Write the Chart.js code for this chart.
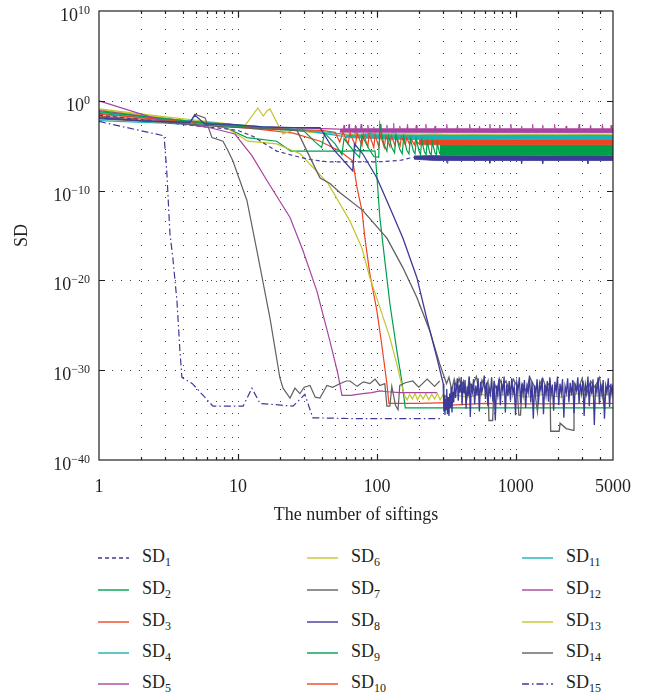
<!DOCTYPE html>
<html>
<head>
<meta charset="utf-8">
<script src="https://cdn.jsdelivr.net/npm/chart.js@4.4.1/dist/chart.umd.min.js"></script>
<style>
  body { margin: 0; background: #fff; }
  #wrap { position: relative; width: 656px; height: 699px; }
  #chart { position: absolute; left: 0; top: 0; }
  .item { position: absolute; font: 18px "Liberation Serif", serif; color: #231f20; white-space: nowrap; }
  .item svg { position: absolute; left: 0; top: -3px; }
  .item span { position: absolute; left: 44px; top: -12px; line-height: 20px; }
  .item sub { font-size: 12px; vertical-align: -4px; line-height: 0; }
</style>
</head>
<body>
<div id="wrap">
  <canvas id="chart" width="656" height="535"></canvas>
  <div id="legend"></div>
</div>
<script>
// axis ticks
const X_GRID = [1, 2, 3, 4, 5, 6, 7, 8, 9, 10, 20, 30, 40, 50, 60, 70, 80, 90,
  100, 200, 300, 400, 500, 600, 700, 800, 900, 1000, 2000, 3000, 4000, 5000];
const X_LABELS = [1, 10, 100, 1000, 5000];
const Y_EXPONENTS = [-40, -30, -20, -10, 0, 10];

// series values as [number of siftings, log10(SD)]
const SD1 = [[1,-1.6],[2,-2.1],[3,-2.4],[5,-2.8],[8,-3.1],[10,-3.3],[13,-4.0],[16,-4.9],[19,-5.6],[25,-6.1],
  [32,-6.5],[44,-6.8],[60,-6.8],[80,-6.8],[100,-6.8],[130,-6.7],[150,-6.6],[170,-6.4],[185,-6.3]];
const SD1_BAND_TOP = [[185,-6.15],[250,-6.1],[400,-6.15],[800,-6.1],[1600,-6.15],[3000,-6.1],[5000,-6.15]];
const SD1_BAND_BOTTOM = [[185,-6.5],[260,-6.65],[316,-6.65],[320,-6.95],[324,-6.65],[643,-6.65],[650,-6.95],[657,-6.65],
  [1090,-6.65],[1100,-7.0],[1110,-6.65],[1545,-6.65],[1560,-7.0],[1575,-6.65],[3270,-6.65],[3300,-7.0],[3330,-6.65],[5000,-6.65]];

const SD2 = [[1,-1.2],[3,-2.0],[8,-2.7],[15,-3.1],[25,-3.3],[30,-3.4],[36,-4.6],[40,-5.2],[42,-3.6],[50,-4.8],
  [56,-6.0],[58,-4.2],[68,-5.6],[75,-6.3],[78,-3.9],[88,-5.4],[95,-6.2],[103,-6.3],[105,-2.6],[112,-4.8],
  [118,-5.6],[121,-3.9],[128,-5.2],[134,-5.8],[137,-3.8],[146,-5.4],[152,-5.9],[156,-4.0],[164,-5.5],[170,-5.9],
  [174,-4.2],[183,-5.6],[188,-5.9],[192,-4.3],[201,-5.6],[206,-6.0],[210,-4.4],[220,-5.7],[226,-6.0],[230,-4.5],
  [240,-5.8],[246,-6.0],[250,-4.6],[262,-5.8],[268,-6.0],[272,-4.7],[283,-5.9]];
const SD2_BAND_TOP = [[283,-4.9],[290,-4.9],[292,-3.9],[294,-4.9],[316,-4.9],[318,-3.8],[320,-4.9],[344,-4.9],[346,-3.9],
  [348,-4.9],[374,-4.9],[376,-4.0],[378,-4.9],[408,-4.9],[410,-4.0],[412,-4.9],[450,-4.9],[452,-4.1],[454,-4.9],[5000,-4.9]];
const SD2_BAND_BOTTOM = [[283,-6.1],[5000,-6.1]];

const SD3 = [[1,-1.5],[3,-2.1],[8,-2.7],[15,-3.0],[25,-3.2],[40,-3.3],[50,-3.5],[54,-4.6],[57,-3.5],[62,-4.8],
  [64,-3.6],[70,-5.0],[72,-3.6],[78,-5.0],[80,-3.7],[86,-5.1],[88,-3.7],[95,-5.2],[97,-3.8],[103,-5.1],[106,-3.8],
  [113,-5.2],[116,-3.9],[124,-5.1],[127,-3.9],[135,-5.0],[138,-4.0],[147,-5.0],[150,-4.0],[160,-4.9],[164,-4.1],
  [172,-4.9],[176,-4.2],[186,-4.9],[190,-4.3],[200,-4.8]];
const SD3_BAND_TOP = [[200,-4.3],[400,-4.3],[1000,-4.35],[5000,-4.3]];
const SD3_BAND_BOTTOM = [[200,-4.9],[5000,-4.9]];

const SD4 = [[1,-2.2],[3,-2.5],[10,-2.9],[20,-3.1],[30,-3.3],[45,-3.5],[60,-3.75]];
const SD4_BAND_TOP = [[60,-3.75],[69,-3.75],[70,-3.3],[71,-3.75],[97,-3.75],[98,-3.3],[99,-3.75],[129,-3.75],[130,-3.4],
  [131,-3.75],[200,-3.8],[260,-3.7],[350,-3.8],[500,-3.75],[800,-3.8],[1300,-3.75],[2000,-3.8],[3200,-3.75],[5000,-3.8]];
const SD4_BAND_BOTTOM = [[60,-4.1],[150,-4.3],[5000,-4.3]];

const SD5 = [[1,0.0],[2.84,-2.2],[6.3,-3.0],[9.5,-3.7],[12.6,-6.1],[16.2,-8.9],[23.7,-13.0],[29.4,-16.7],[37,-21.2],
  [45.8,-26.7],[52.4,-30.4],[56,-32.8],[65,-32.8],[79,-32.6],[92,-32.5],[105,-32.3],[120,-32.4],[146,-32.5],[200,-32.5],[271,-32.5]];

const SD6 = [[1,-1.0],[3,-1.9],[8,-2.9],[11.8,-4.5],[19,-4.8],[28,-5.9],[44.5,-9.2],[64,-13.4],[78,-16.4],[89,-19.7],
  [105,-23.0],[124,-26.4],[139,-29.3],[150,-31.5],[158,-32.8],[165,-33.3],[172,-32.7],[180,-33.2],[188,-32.6],
  [196,-33.3],[205,-32.7],[215,-33.2],[225,-32.6],[236,-33.3],[248,-32.7],[260,-33.2],[272,-32.6],[285,-33.3],
  [300,-32.7],[330,-33.1],[380,-32.8],[450,-33.0],[560,-32.7],[700,-32.9],[900,-32.6],[1200,-33.0],[1600,-32.7],
  [2100,-33.0],[2800,-32.6],[3700,-32.9],[5000,-32.6]];

const SD7 = [[1,-1.8],[2,-2.2],[4.5,-2.5],[4.9,-1.5],[5.8,-1.9],[6.5,-4.1],[7.8,-4.5],[8.5,-5.6],[9.2,-6.7],
  [11.6,-11.1],[13.7,-16.7],[17.0,-24.2],[20.0,-30.8],[21.1,-32.0],[23.7,-33.1],[25.7,-32.0],[27.9,-32.6],
  [30,-31.9],[33,-31.7],[36,-33.0],[38.9,-33.1],[43.7,-31.7],[48,-31.9],[54,-31.5],[60,-31.2],[64,-31.2],
  [72,-31.8],[80,-31.3],[89,-31.5],[97,-31.0],[105,-31.7],[114,-31.5],[118,-34.0],[124,-34.0],[128,-31.8],
  [136,-33.9],[142,-34.4],[146,-31.7],[160,-31.4],[181,-31.2],[200,-31.9],[230,-31.0],[260,-31.8],[283,-31.2]];

const SD8 = [[1,-1.9],[2,-2.2],[4.5,-2.4],[4.9,-1.6],[5.8,-2.6],[8.5,-2.6],[15,-2.9],[25,-3.0],[39,-3.0],
  [48,-5.3],[67,-7.8],[69,-4.8],[79,-5.9],[100,-8.6],[124,-11.9],[154,-15.3],[194,-19.7],[228,-24.2],[270,-28.6],
  [300,-31.5],[303,-34.6],[306,-32.8],[309,-35.0],[312,-33.2],[315,-34.4],[318,-32.1],[322,-34.9],[326,-33.0],
  [330,-35.1],[334,-32.6],[338,-34.2],[342,-31.9],[347,-34.7],[352,-32.4],[357,-33.6],[362,-31.4],[368,-33.1],
  [373,-32.0],[379,-30.9],[385,-33.4],[391,-31.6],[397,-32.5],[404,-30.8],[410,-33.9],[417,-31.3],[424,-32.6],
  [431,-31.1],[438,-34.3],[446,-31.8],[454,-32.9],[462,-30.7],[470,-35.2],[478,-31.5],[487,-32.4],[496,-31.0],
  [505,-33.8],[515,-31.7],[525,-32.8],[535,-30.9],[546,-34.6],[557,-31.3],[568,-32.5],[580,-31.8],[592,-30.6],
  [604,-33.2],[616,-31.4],[629,-34.0],[642,-31.9],[655,-32.7],[669,-30.8],[683,-33.5],[697,-31.2],[711,-35.6],
  [726,-31.7],[741,-32.8],[757,-31.0],[773,-33.9],[789,-31.5],[806,-32.4],[823,-30.7],[840,-34.7],[858,-31.6],
  [876,-32.9],[895,-31.2],[914,-33.4],[933,-30.9],[953,-32.6],[973,-31.8],[994,-35.0],[1015,-31.4],[1037,-32.2],
  [1059,-30.8],[1081,-33.7],[1104,-31.5],[1128,-32.7],[1152,-31.1],[1176,-34.2],[1201,-31.8],[1227,-32.5],
  [1253,-30.6],[1280,-33.6],[1307,-31.3],[1335,-35.4],[1363,-31.7],[1392,-32.6],[1422,-31.0],[1452,-33.8],
  [1483,-31.5],[1515,-32.3],[1547,-30.9],[1580,-34.9],[1614,-31.6],[1648,-32.8],[1683,-31.2],[1719,-33.5],
  [1756,-30.8],[1793,-32.7],[1831,-31.6],[1870,-34.5],[1910,-31.3],[1951,-32.4],[1992,-30.7],[2035,-33.9],
  [2078,-31.5],[2122,-32.6],[2167,-31.0],[2214,-35.3],[2261,-31.8],[2309,-32.5],[2358,-30.9],[2408,-33.6],
  [2459,-31.4],[2512,-32.8],[2565,-31.1],[2620,-34.8],[2676,-31.7],[2733,-32.3],[2791,-30.8],[2850,-33.7],
  [2911,-31.5],[2973,-32.6],[3036,-31.2],[3100,-35.1],[3166,-31.6],[3234,-32.4],[3302,-30.7],[3373,-34.0],
  [3444,-31.4],[3518,-32.7],[3592,-31.0],[3669,-36.1],[3747,-31.6],[3827,-32.5],[3908,-30.8],[3991,-33.8],
  [4076,-31.5],[4163,-32.6],[4252,-31.1],[4342,-35.4],[4435,-31.7],[4529,-32.4],[4625,-30.9],[4724,-34.1],
  [4824,-31.5],[4927,-32.7],[5000,-31.6]];

const SD9 = [[1,-1.4],[3,-2.1],[6.5,-2.7],[8.2,-3.0],[11.6,-4.1],[19,-4.5],[24,-5.6],[40,-5.6],[60,-5.6],[80,-5.55],
  [97,-5.6],[105,-13.0],[114,-17.8],[124,-22.6],[139,-27.8],[151,-31.2],[160,-34.2],[300,-34.2],[1000,-34.2],[5000,-34.2]];

const SD10 = [[1,-1.7],[3,-2.2],[8,-2.8],[15,-3.2],[25,-3.6],[39,-4.5],[54,-5.6],[67,-6.7],[72,-9.7],[78,-12.2],
  [82,-15.3],[89,-19.3],[100,-23.4],[108,-27.0],[118,-31.5],[122,-33.7],[200,-33.7],[330,-33.6],[340,-33.9],
  [600,-33.7],[1200,-33.75],[5000,-33.7]];

const SD11 = [[1,-1.3],[3,-2.0],[10,-2.7],[20,-3.0],[30,-3.3],[40,-3.6],[54,-3.9],[70,-4.0],[90,-3.6],[110,-4.1],
  [150,-3.9],[250,-4.0],[500,-3.95],[1000,-4.05],[2000,-3.95],[5000,-4.0]];

const SD12 = [[1,-1.1],[3,-2.0],[8,-2.6],[15,-2.9],[25,-3.0],[40,-3.1],[54,-3.15]];
const SD12_BAND_TOP = [[54,-3.15],[57.4,-3.1],[58,-2.7],[58.6,-3.1],[62.4,-3.1],[63,-2.6],[63.6,-3.1],[69.3,-3.1],
  [70,-2.8],[70.7,-3.1],[76.2,-3.1],[77,-2.6],[77.8,-3.1],[85.1,-3.1],[86,-2.7],[86.9,-3.1],[94,-3.1],[95,-2.9],
  [96,-3.1],[105,-3.1],[106,-2.6],[107,-3.1],[117,-3.1],[118,-2.7],[119,-3.1],[131,-3.1],[132,-2.5],[133,-3.1],
  [144.5,-3.1],[146,-2.8],[147.5,-3.1],[164.3,-3.1],[166,-2.6],[167.7,-3.1],[190,-3.1],[192,-2.7],[194,-3.1],
  [222.8,-3.1],[225,-2.6],[227.2,-3.1],[259.4,-3.1],[262,-2.8],[264.6,-3.1],[314.8,-3.1],[318,-2.6],[321.2,-3.1],
  [376,-3.1],[380,-2.7],[384,-3.1],[460,-3.1],[465,-2.6],[470,-3.1],[542.5,-3.1],[548,-2.8],[553.5,-3.1],
  [643.5,-3.1],[650,-2.6],[656.5,-3.1],[757,-3.1],[765,-2.7],[773,-3.1],[911,-3.1],[920,-2.6],[929,-3.1],
  [1089,-3.1],[1100,-2.8],[1111,-3.1],[1307,-3.1],[1320,-2.6],[1333,-3.1],[1544,-3.1],[1560,-2.7],[1576,-3.1],
  [1881,-3.1],[1900,-2.6],[1919,-3.1],[2277,-3.1],[2300,-2.8],[2323,-3.1],[2821,-3.1],[2850,-2.6],[2879,-3.1],
  [3415,-3.1],[3450,-2.7],[3485,-3.1],[4158,-3.1],[4200,-2.6],[4242,-3.1],[4801,-3.1],[4850,-2.7],[4899,-3.1],[5000,-3.1]];
const SD12_BAND_BOTTOM = [[54,-3.5],[5000,-3.55]];

const SD13 = [[1,-0.9],[3,-1.8],[8,-2.5],[11.2,-2.8],[13.9,-0.8],[15.2,-1.7],[16.2,-1.1],[17,-0.9],[21,-3.7],
  [28,-3.0],[32,-3.5],[40,-3.6],[60,-3.7],[100,-3.65],[300,-3.7],[1000,-3.7],[5000,-3.7]];

const SD14 = [[1,-2.0],[3,-2.4],[8,-2.9],[15,-3.1],[22,-3.2],[26.6,-3.3],[33,-6.3],[39,-8.6],[46,-9.2],[54,-10.2],
  [79,-12.2],[118,-15.3],[154,-18.6],[194,-21.9],[240,-25.6],[283,-29.3],[317,-31.5],[330,-30.8],[345,-32.2],
  [360,-31.0],[375,-32.0],[390,-30.9],[405,-31.8],[420,-31.2],[440,-33.5],[460,-31.0],[480,-32.2],[500,-31.3],
  [520,-30.7],[545,-32.6],[570,-31.1],[600,-32.0],[630,-31.2],[640,-35.6],[680,-35.6],[700,-31.4],[730,-32.3],
  [760,-30.9],[800,-31.8],[850,-31.2],[900,-32.4],[960,-31.0],[1020,-31.8],[1050,-35.0],[1080,-35.0],[1110,-31.5],
  [1180,-32.3],[1260,-30.8],[1350,-31.7],[1430,-34.6],[1480,-31.6],[1560,-30.9],[1650,-32.0],[1760,-31.3],
  [1780,-36.8],[2050,-36.8],[2080,-35.9],[2300,-36.5],[2600,-36.7],[2620,-31.4],[2800,-32.2],[3000,-30.9],
  [3200,-32.9],[3450,-31.2],[3700,-31.9],[4000,-30.8],[4300,-33.8],[4600,-31.6],[5000,-32.2]];

const SD15 = [[1,-2.3],[2.94,-3.9],[3.08,-8.1],[3.24,-14.8],[3.4,-17.5],[3.64,-22.3],[3.82,-27.8],[3.95,-30.8],
  [4.7,-31.5],[6.6,-34.0],[10.9,-34.0],[12.6,-32.0],[14.4,-33.7],[24.9,-34.0],[30.3,-32.7],[34.6,-35.3],[75,-35.4],[285,-35.4]];

const BLUE = '#3d3a98', GREEN = '#00a04b', RED = '#ee4423', CYAN = '#19b2b5',
  PURPLE = '#a8449f', YELLOW = '#c3c52e', GRAY = '#616161';
const SERIES_COLOR = [BLUE, GREEN, RED, CYAN, PURPLE, YELLOW, GRAY, BLUE, GREEN, RED, CYAN, PURPLE, YELLOW, GRAY, BLUE];
const SERIES_DASH = { 0: [4, 3], 14: [7, 3, 1.5, 3] };

const pts = arr => arr.map(([x, e]) => ({ x: x, y: Math.pow(10, e) }));

function line(arr, color, extra) {
  return Object.assign({
    data: pts(arr), borderColor: color, borderWidth: 1.2, pointRadius: 0,
    fill: false, tension: 0
  }, extra);
}

function band(top, bottom, color) {
  return [
    line(top, color, { fill: '+1', backgroundColor: color, borderWidth: 0.8, order: 20 }),
    line(bottom, color, { borderWidth: 0.8, order: 20 })
  ];
}

const datasets = [
  ...band(SD12_BAND_TOP, SD12_BAND_BOTTOM, PURPLE),
  ...band(SD4_BAND_TOP, SD4_BAND_BOTTOM, CYAN),
  ...band(SD3_BAND_TOP, SD3_BAND_BOTTOM, RED),
  ...band(SD2_BAND_TOP, SD2_BAND_BOTTOM, GREEN),
  ...band(SD1_BAND_TOP, SD1_BAND_BOTTOM, BLUE),
  line(SD1, BLUE, { borderDash: SERIES_DASH[0], order: 9 }),
  line(SD2, GREEN, { order: 9 }),
  line(SD3, RED, { order: 9 }),
  line(SD4, CYAN, { order: 9 }),
  line(SD5, PURPLE, { order: 8 }),
  line(SD6, YELLOW, { order: 10 }),
  line(SD7, GRAY, { order: 6 }),
  line(SD8, BLUE, { order: 4, borderWidth: 1.3 }),
  line(SD9, GREEN, { order: 10 }),
  line(SD10, RED, { order: 10 }),
  line(SD11, CYAN, { order: 9 }),
  line(SD12, PURPLE, { order: 9 }),
  line(SD13, YELLOW, { order: 9 }),
  line(SD14, GRAY, { order: 5, borderWidth: 1.3 }),
  line(SD15, BLUE, { borderDash: SERIES_DASH[14], order: 8 })
];

const INK = '#231f20';
const FONT = '"Liberation Serif", serif';

const frame = {
  id: 'frame',
  beforeDatasetsDraw(chart) {
    const { ctx, chartArea: a, scales: { x, y } } = chart;
    ctx.save();
    ctx.strokeStyle = 'rgba(35,31,32,0.85)';
    ctx.lineWidth = 1;
    ctx.setLineDash([1, 11]);
    X_GRID.slice(1, -1).forEach(v => {
      const px = Math.round(x.getPixelForValue(v)) + 0.5;
      ctx.beginPath(); ctx.moveTo(px, a.top + 6); ctx.lineTo(px, a.bottom); ctx.stroke();
    });
    ctx.setLineDash([1, 8]);
    Y_EXPONENTS.slice(1, -1).forEach(e => {
      const py = Math.round(y.getPixelForValue(Math.pow(10, e))) + 0.5;
      ctx.beginPath(); ctx.moveTo(a.left + 4, py); ctx.lineTo(a.right, py); ctx.stroke();
    });
    ctx.restore();
  },
  afterDatasetsDraw(chart) {
    const { ctx, chartArea: a, scales: { x, y } } = chart;
    ctx.save();
    ctx.strokeStyle = INK;
    ctx.lineWidth = 1.2;
    ctx.strokeRect(a.left, a.top, a.right - a.left, a.bottom - a.top);
    ctx.beginPath();
    X_GRID.slice(1, -1).forEach(v => {
      const px = Math.round(x.getPixelForValue(v)) + 0.5;
      const len = X_LABELS.includes(v) ? 6 : 3;
      ctx.moveTo(px, a.bottom); ctx.lineTo(px, a.bottom - len);
      ctx.moveTo(px, a.top); ctx.lineTo(px, a.top + len);
    });
    Y_EXPONENTS.slice(1, -1).forEach(e => {
      const py = Math.round(y.getPixelForValue(Math.pow(10, e))) + 0.5;
      ctx.moveTo(a.left, py); ctx.lineTo(a.left + 6, py);
      ctx.moveTo(a.right, py); ctx.lineTo(a.right - 6, py);
    });
    ctx.stroke();

    // y tick labels 10^n
    ctx.fillStyle = INK;
    ctx.textBaseline = 'alphabetic';
    ctx.textAlign = 'left';
    Y_EXPONENTS.forEach(e => {
      const py = y.getPixelForValue(Math.pow(10, e));
      const sup = e < 0 ? '\u2212' + Math.abs(e) : String(e);
      ctx.font = '12px ' + FONT;
      const sw = ctx.measureText(sup).width;
      ctx.font = '18px ' + FONT;
      const bw = ctx.measureText('10').width;
      const right = 90;
      ctx.fillText('10', right - sw - bw, py + 10);
      ctx.font = '12px ' + FONT;
      ctx.fillText(sup, right - sw, py + 3);
    });

    // y title
    ctx.font = '18px ' + FONT;
    ctx.textAlign = 'center';
    ctx.textBaseline = 'middle';
    ctx.translate(22, (a.top + a.bottom) / 2);
    ctx.rotate(-Math.PI / 2);
    ctx.fillText('SD', 0, 0);
    ctx.restore();
  }
};

new Chart(document.getElementById('chart'), {
  type: 'line',
  data: { datasets: datasets },
  options: {
    responsive: false,
    animation: false,
    events: [],
    layout: { padding: { top: 11, right: 43, left: 0, bottom: 0 } },
    plugins: { legend: { display: false }, tooltip: { enabled: false } },
    scales: {
      x: {
        type: 'logarithmic', min: 1, max: 5000,
        grid: { display: false, drawTicks: false },
        border: { display: false },
        afterBuildTicks: s => { s.ticks = X_GRID.map(v => ({ value: v })); },
        afterFit: s => { s.height = 75; },
        ticks: {
          autoSkip: false, maxRotation: 0, padding: 16, color: INK,
          font: { family: FONT, size: 18 },
          callback: v => X_LABELS.includes(v) ? String(v) : ''
        },
        title: {
          display: true, text: 'The number of siftings', color: INK,
          font: { family: FONT, size: 18 }, padding: { top: 0, bottom: 9 }
        }
      },
      y: {
        type: 'logarithmic', min: 1e-40, max: 1e10,
        grid: { display: false, drawTicks: false },
        border: { display: false },
        ticks: { display: false },
        afterBuildTicks: s => { s.ticks = Y_EXPONENTS.map(e => ({ value: Math.pow(10, e) })); },
        afterFit: s => { s.width = 99; }
      }
    }
  },
  plugins: [frame]
});

// legend, three columns of five
const COL_X = [98, 307, 522];
const ROW_Y = [558, 590, 622, 653, 684];
const legend = document.getElementById('legend');
SERIES_COLOR.forEach((color, i) => {
  const item = document.createElement('div');
  item.className = 'item';
  item.style.left = COL_X[Math.floor(i / 5)] + 'px';
  item.style.top = ROW_Y[i % 5] + 'px';
  const dash = SERIES_DASH[i] ? ' stroke-dasharray="' + SERIES_DASH[i].join(' ') + '"' : '';
  item.innerHTML = '<svg width="32" height="6"><line x1="0" y1="3" x2="31" y2="3" stroke="' + color +
    '" stroke-width="1.4"' + dash + '/></svg><span>SD<sub>' + (i + 1) + '</sub></span>';
  legend.appendChild(item);
});
</script>
</body>
</html>
